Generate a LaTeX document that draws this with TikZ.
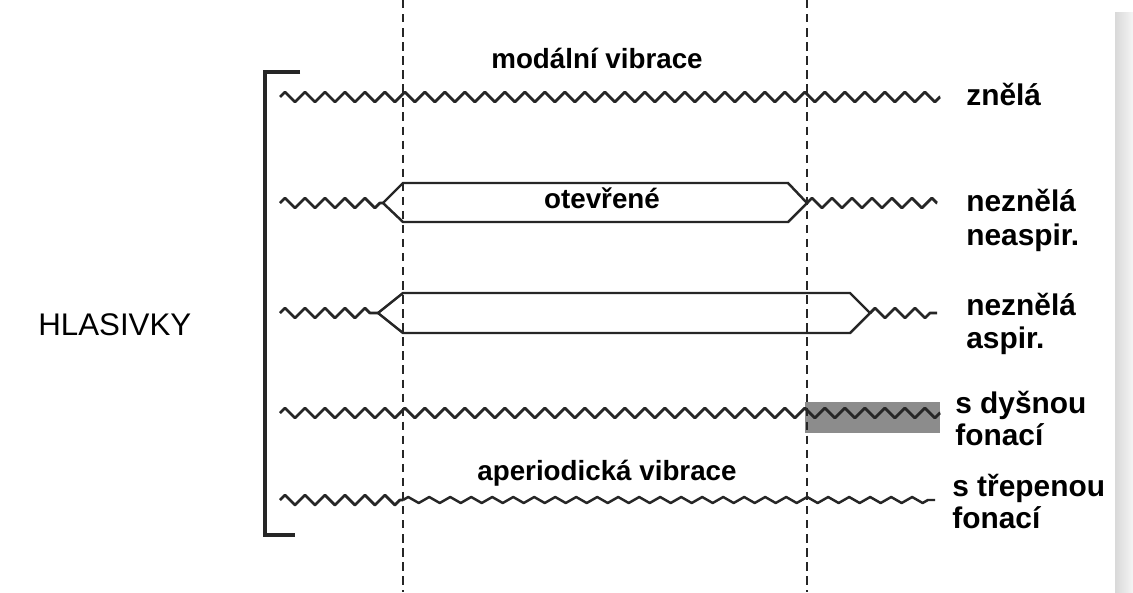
\documentclass[tikz,border=0pt]{standalone}
\usepackage{fontspec}
\setmainfont{Liberation Sans}
\usetikzlibrary{decorations.pathmorphing}
\begin{document}
\begin{tikzpicture}[x=0.02cm,y=-0.02cm,
  zz/.style={draw=black!85,line width=1.6pt,line join=round,decorate,decoration={zigzag,segment length=0.4cm,amplitude=0.1cm}},
  zzs/.style={draw=black!85,line width=1.4pt,line join=round,decorate,decoration={zigzag,segment length=0.42cm,amplitude=0.06cm}},
  guide/.style={draw=black!85,line width=1.2pt,dash pattern=on 4.8pt off 3.2pt},
  glottis/.style={draw=black!85,line width=1.4pt,line join=miter},
  lbl/.style={font=\fontsize{15.8}{18}\selectfont\bfseries,inner sep=0pt,anchor=base},
  side/.style={font=\fontsize{17}{18}\selectfont\bfseries,inner sep=0pt,anchor=base west},
]
\useasboundingbox (0,0) rectangle (1133,592);
\fill[white] (0,0) rectangle (1133,592);
\shade[left color=gray!30,right color=gray!8] (1115,12) rectangle (1133,592);

% bracket
\coordinate (bt) at (300,72);
\coordinate (btl) at (265,72);
\coordinate (bbl) at (265,535);
\coordinate (bb) at (295,535);
\draw[draw=black!85,line width=1.8pt] (bt) -- (btl) -- (bbl) -- (bb);

% row 1: znela
\coordinate (r1a) at (280,97);
\coordinate (r1b) at (940,97);
\draw[zz] (r1a) -- (r1b);

% row 2: neznela neaspir.
\coordinate (r2a) at (280,203);
\coordinate (r2l) at (383,203);
\coordinate (r2r) at (807,203);
\coordinate (r2b) at (937,203);
\draw[zz] (r2a) -- (r2l);
\draw[glottis] (r2l) -- (403,183) -- (788,183) -- (r2r) -- (788,222) -- (403,222) -- cycle;
\draw[zz] (r2r) -- (r2b);

% row 3: neznela aspir.
\coordinate (r3a) at (280,313);
\coordinate (r3l) at (378,313);
\coordinate (r3r) at (870,313);
\coordinate (r3b) at (937,313);
\draw[zz] (r3a) -- (r3l);
\draw[glottis] (r3l) -- (403,293) -- (850,293) -- (r3r) -- (850,333) -- (403,333) -- cycle;
\draw[zz] (r3r) -- (r3b);

% row 4: s dysnou fonaci
\coordinate (r4a) at (280,413);
\coordinate (r4b) at (940,413);
\fill[black!45] (805,402) rectangle (940,433);
\draw[zz] (r4a) -- (r4b);

% row 5: s trepenou fonaci
\coordinate (r5a) at (280,500);
\coordinate (r5m) at (403,500);
\coordinate (r5b) at (935,500);
\draw[zz] (r5a) -- (r5m);
\draw[zzs] (r5m) -- (r5b);

% dashed guides
\coordinate (g1t) at (403,0);
\coordinate (g1b) at (403,592);
\coordinate (g2t) at (807,0);
\coordinate (g2b) at (807,592);
\draw[guide] (g1t) -- (g1b);
\draw[guide] (g2t) -- (g2b);

% texts
\node[lbl] (modal) at (597,68) {modální vibrace};
\node[lbl] (open) at (602,208) {otevřené};
\node[lbl] (aper) at (607,480) {aperiodická vibrace};
\node[font=\fontsize{17.8}{18}\selectfont,inner sep=0pt,anchor=base west] (hl) at (38,335) {HLASIVKY};

\node[side] (l1) at (966,105) {znělá};
\node[side] (l2a) at (966,211) {neznělá};
\node[side] (l2b) at (966,245) {neaspir.};
\node[side] (l3a) at (966,315) {neznělá};
\node[side] (l3b) at (966,348) {aspir.};
\node[side] (l4a) at (955,413) {s dyšnou};
\node[side] (l4b) at (955,445) {fonací};
\node[side] (l5a) at (952,496) {s třepenou};
\node[side] (l5b) at (952,528) {fonací};
\end{tikzpicture}
\end{document}
